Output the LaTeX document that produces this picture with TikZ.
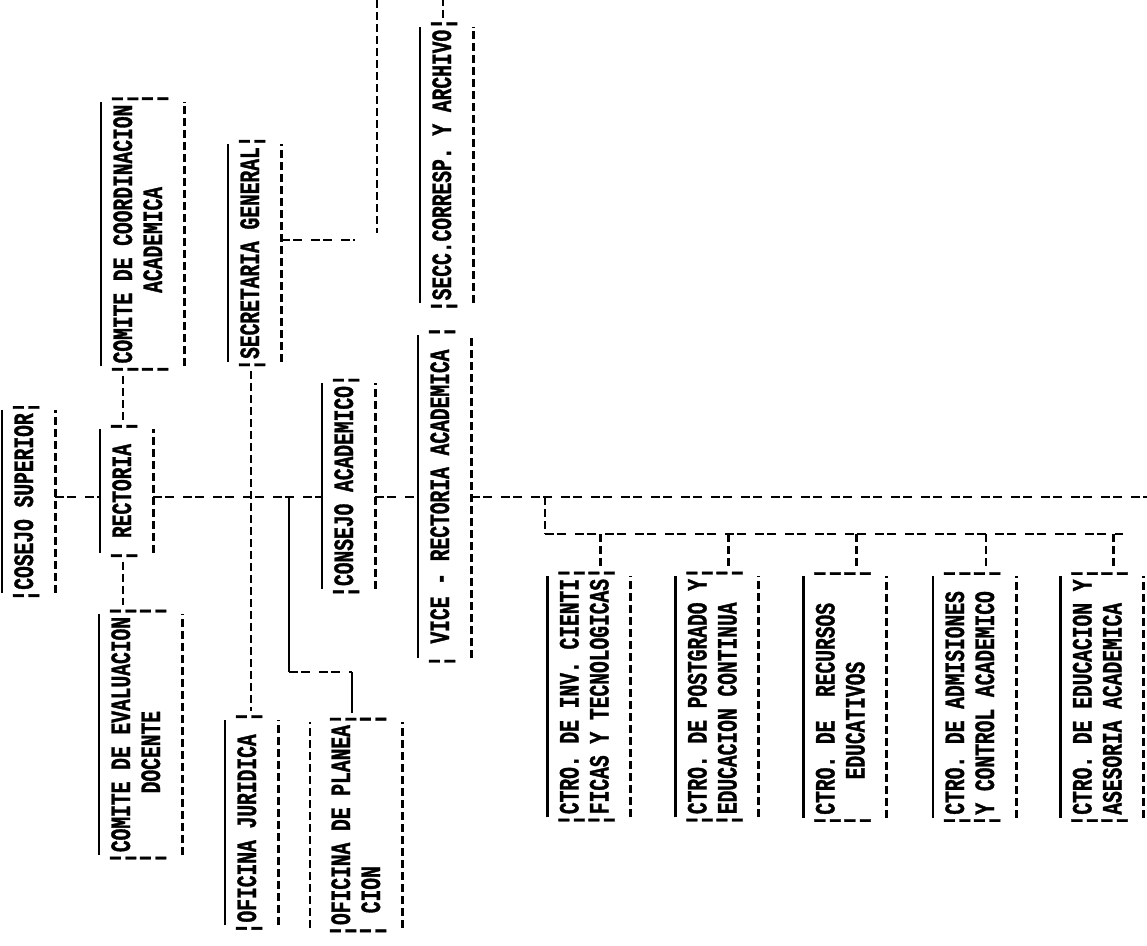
\documentclass[tikz,border=0pt]{standalone}
\usepackage{fontspec}
\newfontfamily\typew[FakeStretch=0.70,FakeBold=1.2,WordSpace={1,0,0}]{Liberation Mono}
\newcommand\hitop{\rule{0pt}{31pt}}
\newcommand\lowbot{\rule[-22pt]{0pt}{22pt}}
\tikzset{
  unit/.style={rotate=90,inner sep=0pt,align=center,
    font=\typew\bfseries\fontsize{28}{30}\selectfont,
    execute at begin node=\hitop,execute at end node=\lowbot},
  rule/.style={line width=2.6pt},
  rowline/.style={line width=2.6pt,dash pattern=on 8pt off 4pt},
  colline/.style={line width=2.6pt,dash pattern=on 9pt off 3pt on 9pt off 9pt},
}
\begin{document}
\begin{tikzpicture}[x=1pt,y=-1pt]
\useasboundingbox[fill=white] (0,0) rectangle (1147,945);
% top of the chart
\node[unit] (superior) at (28.5,501.5) {¦COSEJO~SUPERIOR¦};
\node[unit] (rectoria) at (126.5,491) {¦~RECTORIA~¦};
\node[unit] (coordinacion) at (142.5,234) {\hitop¦COMITE~DE~COORDINACION¦\\¦~~~~~~ACADEMICA~~~~~~~¦};
\node[unit] (evaluacion) at (140.5,734.5) {\hitop¦COMITE~DE~EVALUACION¦\\¦~~~~~DOCENTE~~~~~~~~¦};
\node[unit] (secretaria) at (254.5,253) {¦SECRETARIA~GENERAL¦};
\node[unit] (juridica) at (251.5,822.5) {¦OFICINA~JURIDICA~¦};
\node[unit] (planeacion) at (356,825) {\rule{0pt}{40pt}¦OFICINA~DE~PLANEA¦\\¦~CION~~~~~~~~~~~~¦};
\node[unit] (consejo) at (348.5,486) {¦CONSEJO~ACADEMICO¦};
\node[unit] (vicerrect) at (444.5,496.5) {¦~VICE~-~RECTORIA~ACADEMICA~¦};
\node[unit] (secc) at (446.5,165) {¦SECC.CORRESP.~Y~ARCHIVO¦};
% centros
\node[unit] (ctroinv) at (589,696.5) {\hitop¦CTRO.~DE~INV.~CIENTI¦\\¦FICAS~Y~TECNOLOGICAS¦};
\node[unit] (ctropost) at (717,696.5) {\hitop¦CTRO.~DE~POSTGRADO~Y¦\\¦EDUCACION~CONTINUA~~¦};
\node[unit] (ctrorec) at (845,697) {\hitop¦CTRO.~DE~~RECURSOS~~¦\\¦~~~EDUCATIVOS~~~~~~~¦};
\node[unit] (ctroadm) at (974.5,697) {\hitop¦CTRO.~DE~ADMISIONES~¦\\¦Y~CONTROL~ACADEMICO~¦};
\node[unit] (ctroedu) at (1102,697) {\hitop¦CTRO.~DE~EDUCACION~Y¦\\¦ASESORIA~ACADEMICA~~¦};
% box edges
\foreach \n in {superior,rectoria,coordinacion,evaluacion,secretaria,juridica,consejo,vicerrect,secc,ctroinv,ctropost,ctrorec,ctroadm,ctroedu}{
  \draw[rule,shorten <=9pt,shorten >=9pt] (\n.north west) -- (\n.north east);
  \draw[rowline,shorten <=9pt,shorten >=9pt] (\n.south west) -- (\n.south east);
}
\draw[rowline,shorten <=9pt,shorten >=9pt] (planeacion.north west) -- (planeacion.north east);
\draw[rowline,shorten <=9pt,shorten >=9pt] (planeacion.south west) -- (planeacion.south east);
% main line
\coordinate (spine) at (0,497);
\coordinate (farright) at (1147,497);
\draw[colline] (superior.south |- spine) -- (rectoria.north |- spine);
\draw[colline] (rectoria.south |- spine) -- (consejo.north |- spine);
\draw[colline] (consejo.south |- spine) -- (vicerrect.north |- spine);
\draw[colline] (vicerrect.south |- spine) -- (farright);
% staff of rectoria
\coordinate (rectop) at ([xshift=-3.5pt]rectoria.east);
\coordinate (recbot) at ([xshift=-3.5pt]rectoria.west);
\draw[rowline] (rectop) -- (rectop |- coordinacion.west);
\draw[rowline] (recbot) -- (recbot |- evaluacion.east);
\coordinate (secbot) at ([xshift=-3.5pt]secretaria.west);
\draw[rowline] (secbot) -- (secbot |- juridica.east);
% towards archivo
\coordinate (secend) at (355,240);
\draw[colline] (secretaria.south |- secend) -- (secend);
\coordinate (arctop) at (377,0);
\coordinate (arcbot) at (377,233);
\draw[rowline] (arctop) -- (arcbot);
\coordinate (secctop) at ([xshift=-3.5pt]secc.east);
\coordinate (pagetop) at (0,0);
\draw[rowline] (secctop) -- (secctop |- pagetop);
% planeacion
\coordinate (planroot) at (289,497);
\coordinate (planbend) at (352,672);
\draw[rule] (planroot) -- (planroot |- planbend);
\draw[colline] (planroot |- planbend) -- (planbend);
\draw[rule] (planbend) -- (planbend |- planeacion.east);
% bus of the centros
\coordinate (busleft) at (545,534);
\coordinate (busright) at (1123,534);
\draw[rowline] (busleft |- spine) -- (busleft);
\draw[colline] (busleft) -- (busright);
\foreach \c in {ctroinv,ctropost,ctrorec,ctroadm,ctroedu}{
  \coordinate (drop\c) at ([xshift=11.5pt]\c.east);
  \draw[rowline] (drop\c |- busleft) -- (drop\c);
}
\end{tikzpicture}
\end{document}
